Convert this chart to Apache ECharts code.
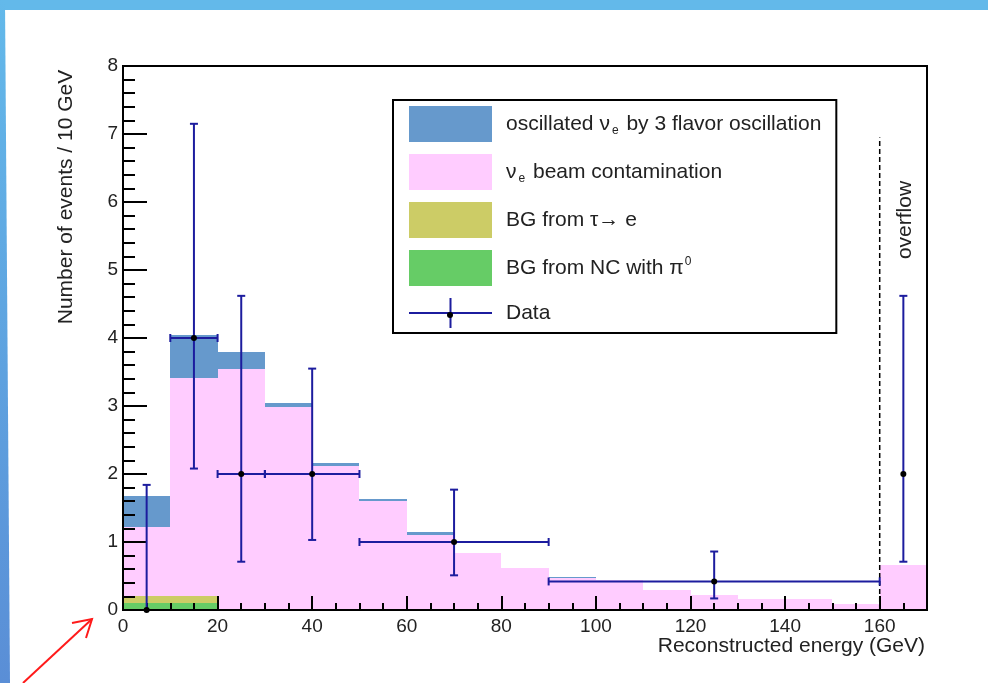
<!DOCTYPE html>
<html>
<head>
<meta charset="utf-8">
<title>Reconstructed energy spectrum</title>
<script src="https://cdn.jsdelivr.net/npm/echarts@6/dist/echarts.min.js"></script>
<style>
  html, body { margin: 0; padding: 0; background: #fff; }
  #chart { width: 988px; height: 683px; }
</style>
</head>
<body>
<div id="chart"></div>
<script>
// Histogram bins: 10 GeV wide, last bin (160-170) is the overflow bin
const binEdges = [0, 10, 20, 30, 40, 50, 60, 70, 80, 90, 100, 110, 120, 130, 140, 150, 160, 170];

// Stacked expectation components per bin (events / 10 GeV), bottom to top
const ncPi0   = [0.10, 0.10, 0, 0, 0, 0, 0, 0, 0, 0, 0, 0, 0, 0, 0, 0, 0];
const tauToE  = [0.10, 0.10, 0, 0, 0, 0, 0, 0, 0, 0, 0, 0, 0, 0, 0, 0, 0];
const beamNue = [1.02, 3.21, 3.54, 2.98, 2.12, 1.60, 1.11, 0.84, 0.62, 0.465, 0.44, 0.30, 0.225, 0.155, 0.155, 0.085, 0.66];
const oscNue  = [0.46, 0.63, 0.25, 0.06, 0.04, 0.03, 0.03, 0, 0, 0.025, 0, 0, 0, 0, 0, 0, 0];

// Observed events with error bars
const dataX     = [5, 15, 25, 40, 70, 125, 165];
const dataY     = [0, 4, 2, 2, 1, 0.42, 2];
const dataXLow  = [5, 10, 20, 30, 50, 90, 165];
const dataXHigh = [5, 20, 30, 50, 90, 160, 165];
const dataYLow  = [0, 2.08, 0.71, 1.03, 0.51, 0.17, 0.71];
const dataYHigh = [1.84, 7.15, 4.62, 3.55, 1.77, 0.86, 4.62];

// Overflow boundary marker
const overflowEdge = 160;
const overflowLineTop = 6.95;

const yTicks = [0, 1, 2, 3, 4, 5, 6, 7, 8];

const FONT = 'Liberation Sans, Arial, Helvetica, sans-serif';
const COL_OSC = '#6699cc';
const COL_BEAM = '#ffccff';
const COL_TAU = '#cccc66';
const COL_NC = '#66cc66';
const COL_DATA = '#1c1c9e';

const NAME_OSC = 'osc';
const NAME_BEAM = 'beam';
const NAME_TAU = 'tau';
const NAME_NC = 'nc';
const NAME_DATA = 'Data';

// Build stacked rectangles [x0, x1, base, top] for each component
const layers = [ncPi0, tauToE, beamNue, oscNue];
const cumulative = binEdges.slice(0, -1).map(() => 0);
const stackedRects = layers.map(vals => {
  const rects = [];
  vals.forEach((v, i) => {
    const base = cumulative[i];
    const top = base + v;
    cumulative[i] = top;
    if (v > 0) rects.push([binEdges[i], binEdges[i + 1], base, top]);
  });
  return rects;
});

function renderBin(params, api) {
  const p0 = api.coord([api.value(0), api.value(3)]);
  const p1 = api.coord([api.value(1), api.value(2)]);
  const x0 = Math.round(p0[0]), x1 = Math.round(p1[0]);
  const y0 = Math.round(p0[1]), y1 = Math.round(p1[1]);
  return {
    type: 'rect',
    shape: { x: x0, y: y0, width: x1 - x0, height: Math.max(1, y1 - y0) },
    style: { fill: api.visual('color') }
  };
}

function renderDataPoint(params, api) {
  const c = api.coord([api.value(0), api.value(1)]);
  const lo = api.coord([api.value(0), api.value(4)]);
  const hi = api.coord([api.value(0), api.value(5)]);
  const xl = api.coord([api.value(2), api.value(1)]);
  const xh = api.coord([api.value(3), api.value(1)]);
  const cap = 4;
  const ls = { stroke: COL_DATA, lineWidth: 2 };
  const children = [
    { type: 'line', shape: { x1: c[0], y1: lo[1], x2: c[0], y2: hi[1] }, style: ls },
    { type: 'line', shape: { x1: c[0] - cap, y1: hi[1], x2: c[0] + cap, y2: hi[1] }, style: ls }
  ];
  if (api.value(4) > 0) {
    children.push({ type: 'line', shape: { x1: c[0] - cap, y1: lo[1], x2: c[0] + cap, y2: lo[1] }, style: ls });
  }
  if (api.value(3) > api.value(2)) {
    children.push({ type: 'line', shape: { x1: xl[0], y1: c[1], x2: xh[0], y2: c[1] }, style: ls });
    children.push({ type: 'line', shape: { x1: xl[0], y1: c[1] - cap, x2: xl[0], y2: c[1] + cap }, style: ls });
    children.push({ type: 'line', shape: { x1: xh[0], y1: c[1] - cap, x2: xh[0], y2: c[1] + cap }, style: ls });
  }
  children.push({ type: 'circle', shape: { cx: c[0], cy: c[1], r: 3 }, style: { fill: '#000' } });
  return { type: 'group', children };
}

function renderOverflowLine(params, api) {
  const p0 = api.coord([api.value(0), api.value(1)]);
  const p1 = api.coord([api.value(0), api.value(2)]);
  return {
    type: 'line',
    shape: { x1: p0[0], y1: p0[1], x2: p1[0], y2: p1[1] },
    style: { stroke: '#000', lineWidth: 1.5, lineDash: [5, 3] }
  };
}

const dataPoints = dataX.map((x, i) => [x, dataY[i], dataXLow[i], dataXHigh[i], dataYLow[i], dataYHigh[i]]);

const legendText = {};
legendText[NAME_OSC] = '{t|oscillated ν}{sub|e}{t| by 3 flavor oscillation}';
legendText[NAME_BEAM] = '{t|ν}{sub|e}{t| beam contamination}';
legendText[NAME_TAU] = '{t|BG from τ→ e}';
legendText[NAME_NC] = '{t|BG from NC with π}{sup|0}';
legendText[NAME_DATA] = '{t|Data}';

const chart = echarts.init(document.getElementById('chart'), null, { renderer: 'canvas' });

chart.setOption({
  backgroundColor: '#fff',
  animation: false,
  textStyle: { fontFamily: FONT },
  grid: {
    left: 123, right: 61, top: 66, bottom: 73,
    show: true, borderColor: '#000', borderWidth: 2,
    backgroundColor: 'transparent', z: 10
  },
  legend: {
    left: 393, top: 100,
    orient: 'vertical',
    itemWidth: 83, itemHeight: 36, itemGap: 12,
    padding: [6, 15, 5, 16],
    borderColor: '#000', borderWidth: 2,
    backgroundColor: '#fff',
    selectedMode: false,
    z: 20,
    data: [
      { name: NAME_OSC, icon: 'rect' },
      { name: NAME_BEAM, icon: 'rect' },
      { name: NAME_TAU, icon: 'rect' },
      { name: NAME_NC, icon: 'rect' },
      { name: NAME_DATA, icon: 'path://M0,14h83v2h-83z M40.5,0h2v30h-2z' }
    ],
    formatter: name => legendText[name],
    textStyle: {
      color: '#222',
      fontFamily: FONT,
      padding: [0, 0, 0, 9],
      rich: {
        t: { fontSize: 21, fontFamily: FONT, color: '#222' },
        sub: { fontSize: 12, fontFamily: FONT, color: '#222', padding: [14, 2, 0, 2] },
        sup: { fontSize: 12, fontFamily: FONT, color: '#222', padding: [0, 0, 12, 1] }
      }
    }
  },
  xAxis: [
    {
      type: 'value', min: 0, max: 170, interval: 20, position: 'bottom', z: 10,
      name: 'Reconstructed energy (GeV)', nameLocation: 'end', nameGap: -2,
      nameTextStyle: { fontSize: 21, color: '#222', fontFamily: FONT, align: 'right', verticalAlign: 'top', padding: [26, 0, 0, 0] },
      axisLine: { lineStyle: { color: '#000', width: 2 } },
      axisTick: { inside: true, length: 14, lineStyle: { color: '#000', width: 2 } },
      axisLabel: { margin: 7, fontSize: 19, color: '#222', fontFamily: FONT, formatter: v => (v % 20 === 0 && v <= 160 ? String(v) : '') },
      splitLine: { show: false }
    },
    {
      type: 'value', min: 0, max: 170, interval: 5, position: 'bottom', z: 10,
      axisLine: { show: false },
      axisTick: { inside: true, length: 7, lineStyle: { color: '#000', width: 2 } },
      axisLabel: { show: false },
      splitLine: { show: false }
    }
  ],
  yAxis: {
    type: 'value', min: 0, max: 8, interval: 1, z: 10,
    axisLine: { show: true, lineStyle: { color: '#000', width: 2 } },
    axisTick: { show: true, inside: true, length: 24, lineStyle: { color: '#000', width: 2 } },
    minorTick: { show: true, splitNumber: 5, length: 12, lineStyle: { color: '#000', width: 2 } },
    axisLabel: { margin: 5, fontSize: 19, color: '#222', fontFamily: FONT, formatter: v => (yTicks.includes(v) ? String(v) : '') },
    splitLine: { show: false },
    minorSplitLine: { show: false }
  },
  series: [
    { type: 'custom', name: NAME_NC, xAxisIndex: 0, renderItem: renderBin, itemStyle: { color: COL_NC }, encode: { x: [0, 1], y: [2, 3] }, data: stackedRects[0], z: 2, silent: true },
    { type: 'custom', name: NAME_TAU, xAxisIndex: 0, renderItem: renderBin, itemStyle: { color: COL_TAU }, encode: { x: [0, 1], y: [2, 3] }, data: stackedRects[1], z: 2, silent: true },
    { type: 'custom', name: NAME_BEAM, xAxisIndex: 0, renderItem: renderBin, itemStyle: { color: COL_BEAM }, encode: { x: [0, 1], y: [2, 3] }, data: stackedRects[2], z: 2, silent: true },
    { type: 'custom', name: NAME_OSC, xAxisIndex: 0, renderItem: renderBin, itemStyle: { color: COL_OSC }, encode: { x: [0, 1], y: [2, 3] }, data: stackedRects[3], z: 2, silent: true },
    { type: 'custom', name: 'overflowEdge', xAxisIndex: 0, renderItem: renderOverflowLine, encode: { x: 0, y: [1, 2] }, data: [[overflowEdge, 0, overflowLineTop]], z: 11, silent: true },
    { type: 'custom', name: NAME_DATA, xAxisIndex: 0, renderItem: renderDataPoint, itemStyle: { color: COL_DATA }, encode: { x: [0, 2, 3], y: [1, 4, 5] }, data: dataPoints, z: 12, silent: true }
  ],
  graphic: [
    // slide frame
    { type: 'rect', z: 0, shape: { x: 0, y: 0, width: 988, height: 10 }, style: { fill: '#63b9ea' } },
    {
      type: 'polygon', z: 0,
      shape: { points: [[0, 0], [5, 0], [10, 683], [0, 683]] },
      style: { fill: new echarts.graphic.LinearGradient(0, 0, 0, 1, [{ offset: 0, color: '#63b9ea' }, { offset: 1, color: '#5a8ed6' }]) }
    },
    // axis titles and overflow label
    {
      type: 'text', x: 66, y: 197, rotation: Math.PI / 2, z: 20,
      style: { text: 'Number of events / 10 GeV', fontSize: 21, fontFamily: FONT, fill: '#222', align: 'center', verticalAlign: 'middle' }
    },
    {
      type: 'text', x: 905, y: 220, rotation: Math.PI / 2, z: 20,
      style: { text: 'overflow', fontSize: 21, fontFamily: FONT, fill: '#222', align: 'center', verticalAlign: 'middle' }
    },
    // black marker in the Data legend entry
    { type: 'circle', z: 30, shape: { cx: 450, cy: 315, r: 3 }, style: { fill: '#000' } },
    // red annotation arrow
    { type: 'line', z: 30, shape: { x1: 23, y1: 683, x2: 92, y2: 619 }, style: { stroke: '#ff1a1a', lineWidth: 2 } },
    { type: 'polyline', z: 30, shape: { points: [[72, 623], [92, 619], [86, 638]] }, style: { stroke: '#ff1a1a', lineWidth: 2, fill: null } }
  ]
});
</script>
</body>
</html>
